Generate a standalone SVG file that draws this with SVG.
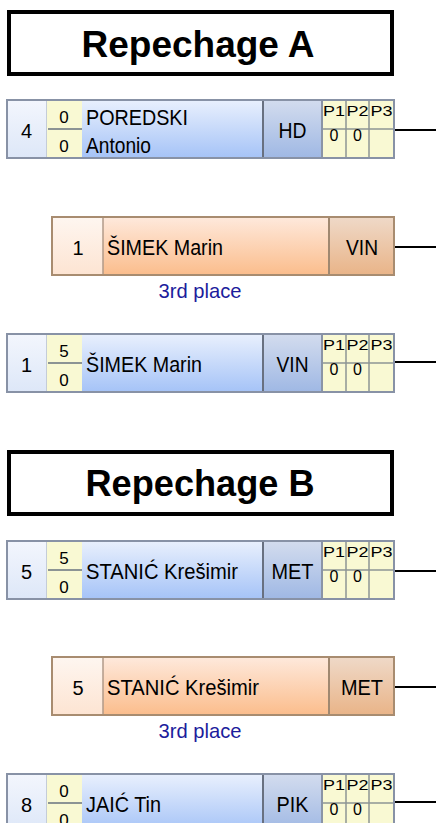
<svg xmlns="http://www.w3.org/2000/svg" xmlns:xlink="http://www.w3.org/1999/xlink" width="436" height="823" viewBox="0 0 436 823">
<style>
text{font-family:"Liberation Sans",Arial,sans-serif;fill:#000}
.title{font-size:36px;font-weight:bold;text-anchor:middle}
.big{font-size:22px}
.mid{font-size:22px;text-anchor:middle}
.seed{font-size:20px;text-anchor:middle}
.sm{font-size:17px;text-anchor:middle}
.p{font-size:15.5px;text-anchor:middle}
.pz{font-size:16px;text-anchor:middle}
.place{font-size:21px;text-anchor:middle;fill:#1c1c9c}
.tbox{fill:#fff;stroke:#000;stroke-width:4}
.conn{stroke:#000;stroke-width:2;fill:none}
</style>
<defs>
<linearGradient id="gSeedB" x1="0" y1="0" x2="0" y2="1"><stop offset="0" stop-color="#f3f6fd"/><stop offset="1" stop-color="#dde7f8"/></linearGradient>
<linearGradient id="gNameB" x1="0" y1="0" x2="0" y2="1"><stop offset="0" stop-color="#e9f0fd"/><stop offset="1" stop-color="#a5c3f7"/></linearGradient>
<linearGradient id="gClubB" x1="0" y1="0" x2="0" y2="1"><stop offset="0" stop-color="#d3dcee"/><stop offset="1" stop-color="#9fb8e4"/></linearGradient>
<linearGradient id="gSeedO" x1="0" y1="0" x2="0" y2="1"><stop offset="0" stop-color="#fef6f0"/><stop offset="1" stop-color="#fde4d2"/></linearGradient>
<linearGradient id="gNameO" x1="0" y1="0" x2="0" y2="1"><stop offset="0" stop-color="#fee9dc"/><stop offset="1" stop-color="#fbbd8c"/></linearGradient>
<linearGradient id="gClubO" x1="0" y1="0" x2="0" y2="1"><stop offset="0" stop-color="#efd9c8"/><stop offset="1" stop-color="#e9b488"/></linearGradient>
<g id="blueTpl">
<rect x="7" y="0" width="39" height="58" fill="url(#gSeedB)"/>
<rect x="46" y="0" width="36" height="58" fill="#f9f9d3"/>
<rect x="82" y="0" width="181" height="58" fill="url(#gNameB)"/>
<rect x="263" y="0" width="59" height="58" fill="url(#gClubB)"/>
<rect x="322" y="0" width="72" height="58" fill="#f9f9d3"/>
<line x1="46.5" y1="1" x2="46.5" y2="57" stroke="#c4ccd8" stroke-width="1"/>
<line x1="48" y1="29" x2="82" y2="29" stroke="#8c9494" stroke-width="2"/>
<line x1="263" y1="1" x2="263" y2="57" stroke="#687080" stroke-width="2"/>
<line x1="322" y1="1" x2="322" y2="57" stroke="#8a94a6" stroke-width="2"/>
<line x1="346" y1="1" x2="346" y2="57" stroke="#8c9494" stroke-width="1.5"/>
<line x1="369" y1="1" x2="369" y2="57" stroke="#8c9494" stroke-width="1.5"/>
<line x1="323" y1="29" x2="394" y2="29" stroke="#8c9494" stroke-width="1.5"/>
<rect x="7" y="0" width="387" height="58" fill="none" stroke="#8892a6" stroke-width="2"/>
<text class="p" x="334" y="16" textLength="22" lengthAdjust="spacingAndGlyphs">P1</text>
<text class="p" x="357.5" y="16" textLength="22" lengthAdjust="spacingAndGlyphs">P2</text>
<text class="p" x="381.5" y="16" textLength="22" lengthAdjust="spacingAndGlyphs">P3</text>
<text class="pz" x="334" y="41">0</text>
<text class="pz" x="357.5" y="41">0</text>
</g>
<g id="orangeTpl">
<rect x="52" y="0" width="51" height="58" fill="url(#gSeedO)"/>
<rect x="103" y="0" width="226" height="58" fill="url(#gNameO)"/>
<rect x="329" y="0" width="65" height="58" fill="url(#gClubO)"/>
<line x1="103" y1="1" x2="103" y2="57" stroke="#b09a88" stroke-width="1.5"/>
<line x1="329" y1="1" x2="329" y2="57" stroke="#a08870" stroke-width="2"/>
<rect x="52" y="0" width="342" height="58" fill="none" stroke="#a88c70" stroke-width="2"/>
</g>
</defs>

<g id="connectors">
<line class="conn" x1="394" y1="130" x2="436" y2="130"/>
<line class="conn" x1="394" y1="247" x2="436" y2="247"/>
<line class="conn" x1="394" y1="362" x2="436" y2="362"/>
<line class="conn" x1="394" y1="571" x2="436" y2="571"/>
<line class="conn" x1="394" y1="687" x2="436" y2="687"/>
<line class="conn" x1="394" y1="802" x2="436" y2="802"/>
</g>

<g id="titleA">
<rect class="tbox" x="9" y="12" width="383" height="62"/>
<text class="title" x="198" y="57" textLength="233" lengthAdjust="spacingAndGlyphs">Repechage A</text>
</g>

<g id="nodeA1" transform="translate(0,100)">
<use xlink:href="#blueTpl"/>
<text class="seed" x="26.5" y="38">4</text>
<text class="sm" x="64" y="23">0</text>
<text class="sm" x="64" y="52">0</text>
<text class="big" x="86" y="25" textLength="102" lengthAdjust="spacingAndGlyphs">POREDSKI</text>
<text class="big" x="86" y="53" textLength="65" lengthAdjust="spacingAndGlyphs">Antonio</text>
<text class="mid" x="292.5" y="38" textLength="28" lengthAdjust="spacingAndGlyphs">HD</text>
</g>

<g id="nodeA2" transform="translate(0,217)">
<use xlink:href="#orangeTpl"/>
<text class="seed" x="78" y="38">1</text>
<text class="big" x="107" y="38" textLength="116" lengthAdjust="spacingAndGlyphs">ŠIMEK Marin</text>
<text class="mid" x="362" y="38" textLength="32" lengthAdjust="spacingAndGlyphs">VIN</text>
<text class="place" x="200" y="81" textLength="83" lengthAdjust="spacingAndGlyphs">3rd place</text>
</g>

<g id="nodeA3" transform="translate(0,334)">
<use xlink:href="#blueTpl"/>
<text class="seed" x="26.5" y="38">1</text>
<text class="sm" x="64" y="23">5</text>
<text class="sm" x="64" y="52">0</text>
<text class="big" x="86" y="38" textLength="116" lengthAdjust="spacingAndGlyphs">ŠIMEK Marin</text>
<text class="mid" x="292.5" y="38" textLength="32" lengthAdjust="spacingAndGlyphs">VIN</text>
</g>

<g id="titleB">
<rect class="tbox" x="9" y="452" width="383" height="62"/>
<text class="title" x="200" y="496" textLength="229" lengthAdjust="spacingAndGlyphs">Repechage B</text>
</g>

<g id="nodeB1" transform="translate(0,541)">
<use xlink:href="#blueTpl"/>
<text class="seed" x="26.5" y="38">5</text>
<text class="sm" x="64" y="23">5</text>
<text class="sm" x="64" y="52">0</text>
<text class="big" x="86" y="38" textLength="152" lengthAdjust="spacingAndGlyphs">STANIĆ Krešimir</text>
<text class="mid" x="292.5" y="38" textLength="42" lengthAdjust="spacingAndGlyphs">MET</text>
</g>

<g id="nodeB2" transform="translate(0,657)">
<use xlink:href="#orangeTpl"/>
<text class="seed" x="78" y="38">5</text>
<text class="big" x="107" y="38" textLength="152" lengthAdjust="spacingAndGlyphs">STANIĆ Krešimir</text>
<text class="mid" x="362" y="38" textLength="42" lengthAdjust="spacingAndGlyphs">MET</text>
<text class="place" x="200" y="81" textLength="83" lengthAdjust="spacingAndGlyphs">3rd place</text>
</g>

<g id="nodeB3" transform="translate(0,774)">
<use xlink:href="#blueTpl"/>
<text class="seed" x="26.5" y="38">8</text>
<text class="sm" x="64" y="23">0</text>
<text class="sm" x="64" y="52">0</text>
<text class="big" x="86" y="38" textLength="75" lengthAdjust="spacingAndGlyphs">JAIĆ Tin</text>
<text class="mid" x="292.5" y="38" textLength="32" lengthAdjust="spacingAndGlyphs">PIK</text>
</g>
</svg>
